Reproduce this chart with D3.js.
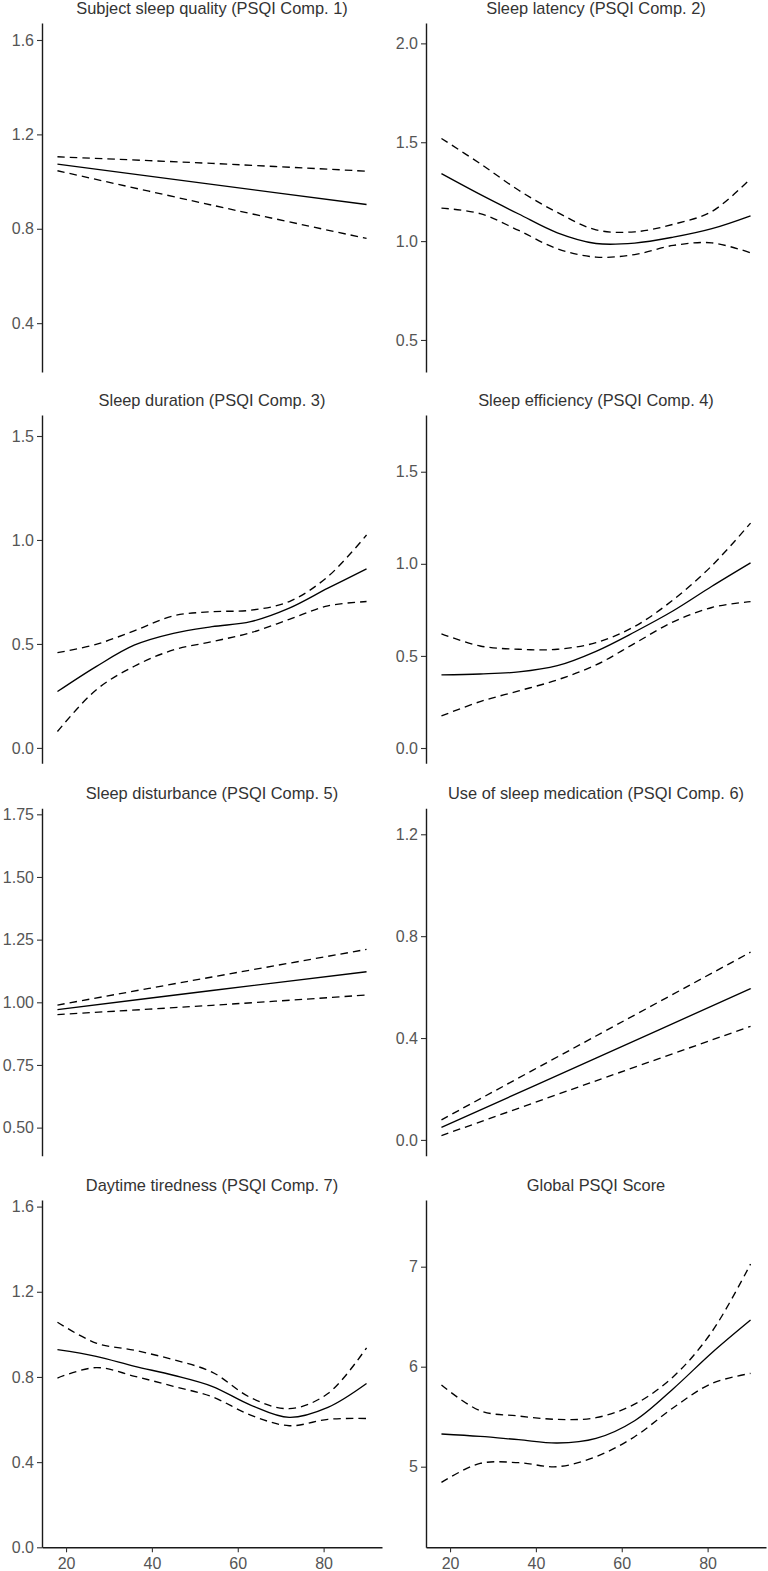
<!DOCTYPE html>
<html>
<head>
<meta charset="utf-8">
<script src="https://cdn.jsdelivr.net/npm/d3@7"></script>
<style>
  html, body { margin: 0; padding: 0; background: #fff; }
  svg { display: block; }
  .tick text { font-family: "Liberation Sans", Arial, sans-serif; }
</style>
</head>
<body>
<svg id="chart" width="768" height="1571"></svg>
<script>
// ---------------- DATA ----------------
const ages = [18, 27, 36, 45, 54, 63, 72, 81, 90];
const agesLin = [18, 54, 90];
const xTicks = [20, 40, 60, 80];

const titles = [
  "Subject sleep quality (PSQI Comp. 1)",
  "Sleep latency (PSQI Comp. 2)",
  "Sleep duration (PSQI Comp. 3)",
  "Sleep efficiency (PSQI Comp. 4)",
  "Sleep disturbance (PSQI Comp. 5)",
  "Use of sleep medication (PSQI Comp. 6)",
  "Daytime tiredness (PSQI Comp. 7)",
  "Global PSQI Score"
];

// Comp 1 (linear fit)
const c1Fit   = [1.074, 0.988, 0.903];
const c1Upper = [1.105, 1.077, 1.044];
const c1Lower = [1.046, 0.900, 0.759];
// Comp 2
const c2Fit   = [1.341, 1.236, 1.137, 1.042, 0.988, 0.990, 1.020, 1.063, 1.128];
const c2Upper = [1.519, 1.392, 1.257, 1.145, 1.057, 1.047, 1.085, 1.150, 1.316];
const c2Lower = [1.167, 1.139, 1.054, 0.961, 0.919, 0.932, 0.978, 0.991, 0.941];
// Comp 3
const c3Fit   = [0.271, 0.391, 0.495, 0.551, 0.583, 0.607, 0.672, 0.768, 0.861];
const c3Upper = [0.458, 0.498, 0.564, 0.635, 0.655, 0.662, 0.704, 0.824, 1.024];
const c3Lower = [0.079, 0.279, 0.394, 0.471, 0.511, 0.554, 0.618, 0.683, 0.704];
// Comp 4
const c4Fit   = [0.397, 0.402, 0.413, 0.447, 0.525, 0.630, 0.745, 0.878, 1.005];
const c4Upper = [0.620, 0.554, 0.536, 0.536, 0.572, 0.660, 0.805, 0.990, 1.221];
const c4Lower = [0.174, 0.252, 0.310, 0.370, 0.451, 0.568, 0.685, 0.763, 0.795];
// Comp 5 (linear fit)
const c5Fit   = [0.971, 1.047, 1.122];
const c5Upper = [0.989, 1.101, 1.211];
const c5Lower = [0.951, 0.988, 1.029];
// Comp 6 (linear fit)
const c6Fit   = [0.049, 0.321, 0.594];
const c6Upper = [0.079, 0.408, 0.737];
const c6Lower = [0.017, 0.232, 0.446];
// Comp 7
const c7Fit   = [0.928, 0.897, 0.850, 0.808, 0.756, 0.668, 0.610, 0.657, 0.769];
const c7Upper = [1.057, 0.959, 0.925, 0.881, 0.823, 0.703, 0.651, 0.722, 0.937];
const c7Lower = [0.795, 0.844, 0.803, 0.756, 0.707, 0.621, 0.571, 0.601, 0.605];
// Global
const gFit    = [5.327, 5.303, 5.270, 5.237, 5.283, 5.460, 5.780, 6.140, 6.467];
const gUpper  = [5.817, 5.560, 5.507, 5.473, 5.490, 5.625, 5.900, 6.350, 7.027];
const gLower  = [4.843, 5.033, 5.040, 5.000, 5.100, 5.300, 5.590, 5.833, 5.933];

const yDomains = [
  [0.193, 1.672], [0.338, 2.103],
  [-0.074, 1.601], [-0.083, 1.808],
  [0.388, 1.774], [-0.062, 1.302],
  [0, 1.631], [4.194, 7.667]
];
const yTicks = [
  [0.4, 0.8, 1.2, 1.6], [0.5, 1.0, 1.5, 2.0],
  [0, 0.5, 1.0, 1.5], [0, 0.5, 1.0, 1.5],
  [0.5, 0.75, 1.0, 1.25, 1.5, 1.75], [0, 0.4, 0.8, 1.2],
  [0, 0.4, 0.8, 1.2, 1.6], [5, 6, 7]
];
const yFormats = [".1f", ".1f", ".1f", ".1f", ".2f", ".1f", ".1f", "d"];

const panelX = [agesLin, ages, ages, ages, agesLin, agesLin, ages, ages];
const panelFit   = [c1Fit, c2Fit, c3Fit, c4Fit, c5Fit, c6Fit, c7Fit, gFit];
const panelUpper = [c1Upper, c2Upper, c3Upper, c4Upper, c5Upper, c6Upper, c7Upper, gUpper];
const panelLower = [c1Lower, c2Lower, c3Lower, c4Lower, c5Lower, c6Lower, c7Lower, gLower];

// ---------------- LAYOUT ----------------
const colLeft = [42, 426];
const panelW = 340;
const rowTop = [23, 415, 808.3, 1200];
const rowBottom = [372, 763.3, 1155.7, 1547.3];
const xDomain = [14.4, 93.6];

const svg = d3.select("#chart");
const FONT = "'Liberation Sans', Arial, sans-serif";

for (let i = 0; i < 8; i++) {
  const col = i % 2, row = Math.floor(i / 2);
  const x0 = colLeft[col], y0 = rowTop[row], y1 = rowBottom[row];
  const g = svg.append("g");

  const x = d3.scaleLinear().domain(xDomain).range([x0, x0 + panelW]);
  const y = d3.scaleLinear().domain(yDomains[i]).range([y1, y0]);

  // title
  g.append("text")
    .attr("x", x0 + panelW / 2)
    .attr("y", y0 - 9.5)
    .attr("text-anchor", "middle")
    .attr("font-family", FONT)
    .attr("font-size", 16.4)
    .attr("fill", "#333333")
    .text(titles[i]);

  // y axis
  const yAx = g.append("g")
    .attr("transform", `translate(${x0},0)`)
    .call(d3.axisLeft(y).tickValues(yTicks[i]).tickFormat(d3.format(yFormats[i]))
      .tickSize(5).tickSizeOuter(0).tickPadding(3));
  yAx.select(".domain").attr("stroke", "#1a1a1a").attr("stroke-width", 1.4);
  yAx.selectAll(".tick line").attr("stroke", "#333").attr("stroke-width", 1.1);
  yAx.selectAll(".tick text").attr("font-size", 16).attr("fill", "#555555").attr("font-family", FONT);

  // x axis for bottom row
  if (row === 3) {
    const xAx = g.append("g")
      .attr("transform", `translate(0,${y1})`)
      .call(d3.axisBottom(x).tickValues(xTicks).tickFormat(d3.format("d"))
        .tickSize(5).tickSizeOuter(0).tickPadding(5));
    xAx.select(".domain").attr("stroke", "#1a1a1a").attr("stroke-width", 1.4);
    xAx.selectAll(".tick line").attr("stroke", "#333").attr("stroke-width", 1.1);
    xAx.selectAll(".tick text").attr("font-size", 16).attr("fill", "#555555").attr("font-family", FONT);
  }

  const xs = panelX[i];
  const line = d3.line()
    .x((d, k) => x(xs[k]))
    .y(d => y(d))
    .curve(d3.curveCatmullRom.alpha(0.5));

  [panelUpper[i], panelLower[i]].forEach(arr => {
    g.append("path").datum(arr)
      .attr("d", line)
      .attr("fill", "none")
      .attr("stroke", "#000")
      .attr("stroke-width", 1.35)
      .attr("stroke-dasharray", "7.5,5");
  });
  g.append("path").datum(panelFit[i])
    .attr("d", line)
    .attr("fill", "none")
    .attr("stroke", "#000")
    .attr("stroke-width", 1.35);
}
</script>
</body>
</html>
